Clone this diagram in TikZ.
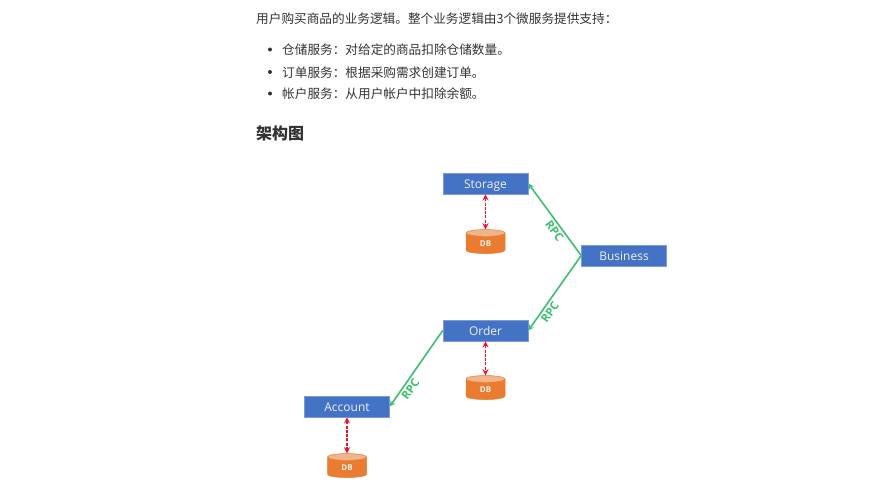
\documentclass[tikz,border=0pt]{standalone}
\usepackage{xcolor}
\usepackage{fontspec}
\usepackage{tikz}
\usetikzlibrary{positioning,shapes.geometric}
\setmainfont{Open Sans}
\newfontfamily\cjk{Noto Sans CJK SC}
\definecolor{svcblue}{HTML}{4472C4}
\definecolor{dborange}{HTML}{E97C30}
\definecolor{dbtop}{HTML}{F2B48C}
\definecolor{rpcgreen}{HTML}{3CC070}
\definecolor{linkred}{HTML}{F0102A}
\definecolor{inkgray}{HTML}{333333}

\tikzset{
  svc/.style={rectangle,fill=svcblue,draw=svcblue!70!white,line width=.6pt,minimum width=85pt,minimum height=21pt,
    inner sep=0pt,text height=9.5pt,text depth=0pt,text=white!90!svcblue,font=\fontsize{12}{12}\selectfont},
  db/.style={cylinder,shape border rotate=90,aspect=.6,minimum width=39pt,minimum height=24pt,inner sep=0pt,
    cylinder uses custom fill,cylinder body fill=dborange,cylinder end fill=dbtop,draw=dborange,line width=.5pt,
    text=white!90!dborange,font=\fontsize{8}{8}\selectfont\bfseries},
  rpc/.style={->,color=rpcgreen,line width=1.6pt},
  rpclabel/.style={sloped,below,inner sep=2pt,font=\fontsize{11.5}{11.5}\selectfont\bfseries},
  store/.style={<->,color=linkred,line width=1.7pt,dash pattern=on 3pt off 1.3pt},
  para/.style={anchor=west,inner sep=0pt,text=inkgray,font=\cjk\fontsize{12.65}{13}\selectfont},
  dot/.style={circle,fill=inkgray,inner sep=0pt,minimum size=4pt}
}

\begin{document}
\begin{tikzpicture}[x=1pt,y=-1pt,>=stealth]
  \fill[white] (0,0) rectangle (874,495);
  \useasboundingbox (0,0) rectangle (874,495);

  % Testo
  \node[para] (intro) at (256,18.5) {用户购买商品的业务逻辑。整个业务逻辑由3个微服务提供支持：};
  \node[para] (item1) at (282,49.5) {仓储服务：对给定的商品扣除仓储数量。};
  \node[para] (item2) at (282,72.5) {订单服务：根据采购需求创建订单。};
  \node[para] (item3) at (282,93.5) {帐户服务：从用户帐户中扣除余额。};
  \node[dot] (dot1) at (270,49.5) {};
  \node[dot] (dot2) at (270,72) {};
  \node[dot] (dot3) at (270,93.5) {};
  \node[para,font=\cjk\fontsize{16}{17}\selectfont\bfseries] (title) at (256,133) {架构图};

  % Servizi
  \node[svc] (storage) at (485.5,183.5) {Storage};
  \node[svc] (business) at (624,255.5) {Business};
  \node[svc] (order) at (485.5,330.5) {Order};
  \node[svc] (account) at (347,406.5) {Account};

  % Database
  \node[db,below=35pt of storage] (dbstorage) {DB};
  \node[db,below=34pt of order] (dborder) {DB};
  \node[db,below=36pt of account] (dbaccount) {DB};

  \draw[store] (storage) -- (dbstorage);
  \draw[store] (order) -- (dborder);
  \draw[store] (account) -- (dbaccount);

  % Chiamate
  \draw[rpc] (business.west) -- node[rpclabel,pos=.4] {RPC} (storage.east);
  \draw[rpc] (business.west) -- node[rpclabel,pos=.7] {RPC} (order.east);
  \draw[rpc] (order.west) -- node[rpclabel,pos=.72] {RPC} (account.east);
\end{tikzpicture}
\end{document}
